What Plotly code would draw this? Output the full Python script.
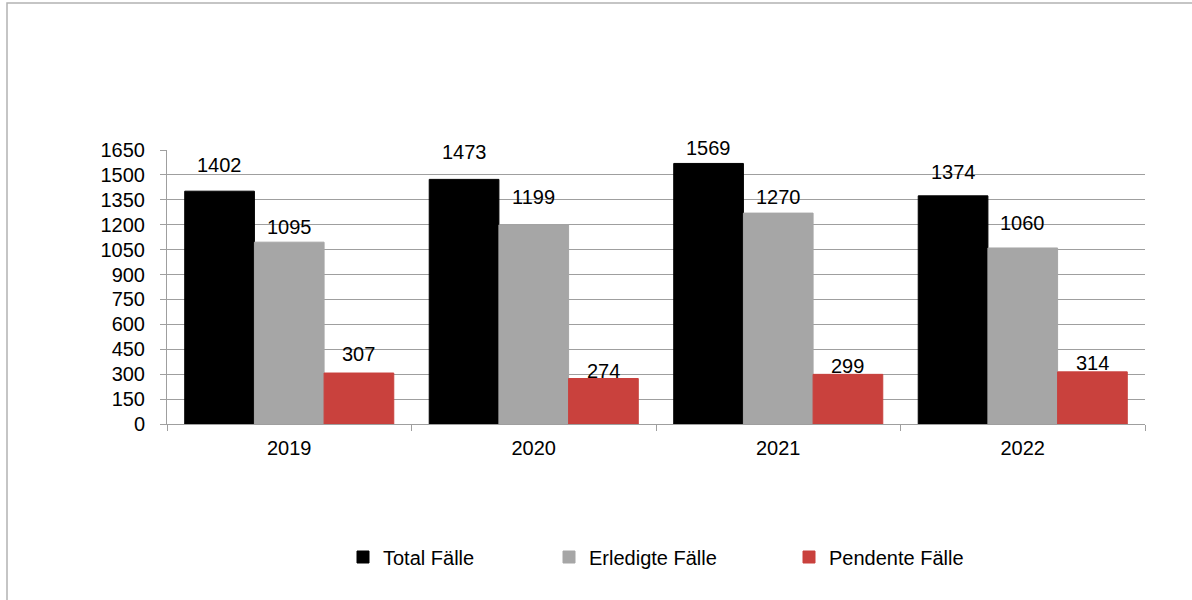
import plotly.graph_objects as go

years = ["2019", "2020", "2021", "2022"]
total = [1402, 1473, 1569, 1374]
erledigt = [1095, 1199, 1270, 1060]
pendent = [307, 274, 299, 314]

series_names = ["Total Fälle", "Erledigte Fälle", "Pendente Fälle"]
series_colors = ["#000000", "#a6a6a6", "#c9413d"]
y_ticks = list(range(0, 1651, 150))

# label lift above each bar top (px), as placed in the original chart
label_lift = [
    [26, 27, 15, 24],
    [15, 28, 16, 25],
    [19, 8, 8, 9],
]

W, H = 1192, 600
ML, MR, MT, MB = 167, 47, 150, 176
BARGAP = 0.145
FONT = "Liberation Sans, Arial, sans-serif"

plot_w = W - ML - MR
plot_h = H - MT - MB
cat_w = plot_w / len(years)
bar_w = cat_w * (1 - BARGAP) / 3

fig = go.Figure()
all_values = [total, erledigt, pendent]
legend_ids = ["legend", "legend2", "legend3"]
for i, (name, vals, color) in enumerate(zip(series_names, all_values, series_colors)):
    fig.add_trace(go.Bar(
        x=years, y=vals, name=name,
        marker=dict(color=color, line=dict(color=color, width=1)),
        legend=legend_ids[i], showlegend=True,
    ))
    for j, v in enumerate(vals):
        # x given as category index so the label sits on its year
        fig.add_annotation(
            x=j, y=v, text=str(v), showarrow=False,
            xshift=(i - 1) * bar_w, yshift=label_lift[i][j], yanchor="middle",
            font=dict(family=FONT, size=20, color="#000000"),
        )

# frame around the chart area (only left/top edges visible in the picture)
fig.add_shape(
    type="rect", xref="paper", yref="paper",
    x0=(7 - ML) / plot_w, x1=1.2, y0=-1.0, y1=(H - MB - 3) / plot_h,
    line=dict(color="#b3b3b3", width=1.5), fillcolor="rgba(0,0,0,0)", layer="below",
)

legend_common = dict(
    orientation="h", yanchor="middle", xanchor="left",
    y=(H - MB - 557) / plot_h, bgcolor="rgba(0,0,0,0)",
    font=dict(family=FONT, size=20, color="#000000"),
)
legend_lefts = [343, 549, 789]

fig.update_layout(
    width=W, height=H,
    margin=dict(l=ML, r=MR, t=MT, b=MB, autoexpand=False),
    paper_bgcolor="white", plot_bgcolor="white",
    barmode="group", bargap=BARGAP, bargroupgap=0,
    font=dict(family=FONT, size=20, color="#000000"),
    showlegend=True,
    legend=dict(legend_common, x=(legend_lefts[0] - ML) / plot_w),
    legend2=dict(legend_common, x=(legend_lefts[1] - ML) / plot_w),
    legend3=dict(legend_common, x=(legend_lefts[2] - ML) / plot_w),
    xaxis=dict(
        type="category", range=[-0.5, len(years) - 0.5],
        showline=True, linecolor="#9f9f9f", linewidth=1,
        ticks="outside", ticklen=6, tickcolor="#9f9f9f", tickson="boundaries",
        showgrid=False, ticklabelstandoff=6, tickangle=0,
        tickfont=dict(family=FONT, size=20, color="#000000"),
    ),
    yaxis=dict(
        range=[0, 1650], tickvals=y_ticks,
        showline=True, linecolor="#9f9f9f", linewidth=1,
        ticks="outside", ticklen=6, tickcolor="#9f9f9f",
        showgrid=True, gridcolor="#9f9f9f", gridwidth=1,
        zeroline=False, ticklabelstandoff=11,
        tickfont=dict(family=FONT, size=20, color="#000000"),
    ),
)

fig.write_html(
    "out.html",
    config={"displayModeBar": False},
    post_script="document.body.style.margin = '0';",
)
